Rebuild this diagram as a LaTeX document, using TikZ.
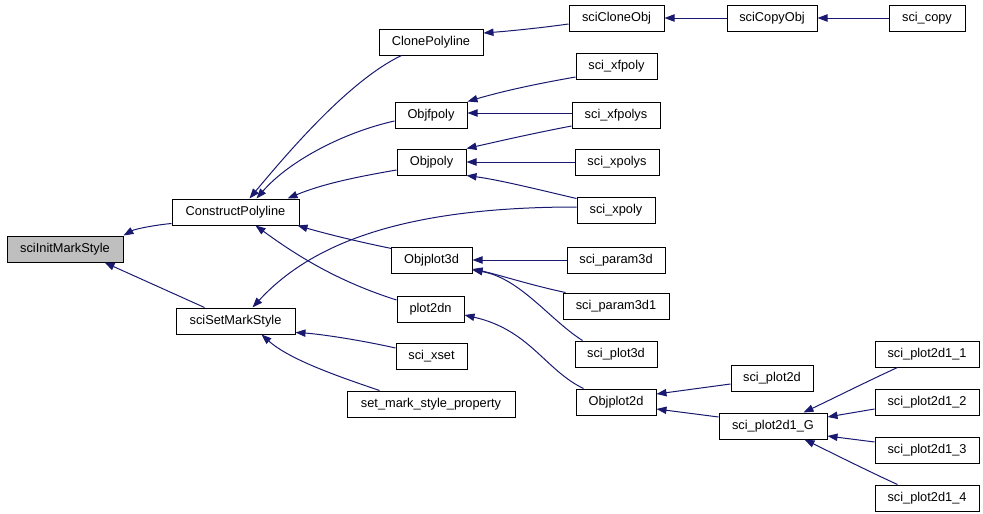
\documentclass[tikz,border=0pt]{standalone}
\usepackage{fontspec}
\setmainfont{Liberation Sans}
\usetikzlibrary{arrows.meta,calc}
\definecolor{edgeblue}{HTML}{191970}
\definecolor{hilite}{HTML}{BFBFBF}
\tikzset{
  box/.style={draw=black, line width=0.75pt, fill=white, inner sep=0pt, minimum height=19.5pt, font=\fontsize{9.6}{11}\selectfont},
  edge/.style={draw=edgeblue, line width=0.75pt, -{Triangle[length=7.5pt,width=5.5pt]}, color=edgeblue}
}
\begin{document}
\begin{tikzpicture}[x=0.75pt,y=-0.75pt]
\useasboundingbox (0,0) rectangle (983,514);
% nodes
\node[box, fill=hilite, minimum width=87pt] (init) at (65,249) {sciInitMarkStyle};
\node[box, minimum width=95.25pt] (CP) at (235.5,212) {ConstructPolyline};
\node[box, minimum width=89.25pt] (SSM) at (235.5,321) {sciSetMarkStyle};
\node[box, minimum width=78pt] (CloneP) at (431,42) {ClonePolyline};
\node[box, minimum width=54pt] (Objfpoly) at (431,115) {Objfpoly};
\node[box, minimum width=51.75pt] (Objpoly) at (431.5,162) {Objpoly};
\node[box, minimum width=60.75pt] (Objplot3d) at (431.5,260) {Objplot3d};
\node[box, minimum width=50.25pt] (plot2dn) at (430.5,309) {plot2dn};
\node[box, minimum width=53.25pt] (xset) at (431.5,356) {sci\_xset};
\node[box, minimum width=126pt] (smsp) at (431,404) {set\_mark\_style\_property};
\node[box, minimum width=71.25pt] (CloneObj) at (616.5,18) {sciCloneObj};
\node[box, minimum width=67.5pt] (CopyObj) at (772,18) {sciCopyObj};
\node[box, minimum width=57pt] (copy) at (927,18) {sci\_copy};
\node[box, minimum width=60.75pt] (xfpoly) at (616.5,66) {sci\_xfpoly};
\node[box, minimum width=66pt] (xfpolys) at (616,115) {sci\_xfpolys};
\node[box, minimum width=63pt] (xpolys) at (617,162) {sci\_xpolys};
\node[box, minimum width=58.5pt] (xpoly) at (616,210) {sci\_xpoly};
\node[box, minimum width=73.5pt] (param3d) at (616,260) {sci\_param3d};
\node[box, minimum width=79.5pt] (param3di) at (616,306) {sci\_param3d1};
\node[box, minimum width=61.5pt] (plot3d) at (616,354) {sci\_plot3d};
\node[box, minimum width=60pt] (Objplot2d) at (616,402) {Objplot2d};
\node[box, minimum width=61.5pt] (plot2d) at (772,378) {sci\_plot2d};
\node[box, minimum width=81pt] (G) at (773,426) {sci\_plot2d1\_G};
\node[box, minimum width=78pt] (s1) at (927,354) {sci\_plot2d1\_1};
\node[box, minimum width=78pt] (s2) at (927,402) {sci\_plot2d1\_2};
\node[box, minimum width=78pt] (s3) at (927,450) {sci\_plot2d1\_3};
\node[box, minimum width=78pt] (s4) at (927,498) {sci\_plot2d1\_4};
% edges
\draw[edge] ($(CP.south west)+(0,-2)$) .. controls (155,225) and (135,229) .. (init.north east);
\draw[edge] ($(SSM.north west)+(29,0)$) -- ($(init.south west)+(98,0)$);
\draw[edge] ($(CloneP.south west)+(23,0)$) .. controls (350,80) and (290,150) .. ($(CP.north west)+(78,0)$);
\draw[edge] ($(Objfpoly.west)+(0,6)$) .. controls (345,132) and (290,160) .. ($(CP.north west)+(85,0)$);
\draw[edge] ($(Objpoly.west)+(0,8)$) .. controls (350,178) and (320,185) .. ($(CP.north east)+(-12,0)$);
\draw[edge] ($(Objplot3d.north west)+(1,2)$) .. controls (350,240) and (320,232) .. ($(CP.south east)+(-2,0)$);
\draw[edge] ($(plot2dn.west)+(0,-9)$) .. controls (340,282) and (300,258) .. ($(CP.south west)+(84,0)$);
\draw[edge] ($(xpoly.west)+(0,-3)$) .. controls (400,207) and (310,245) .. ($(SSM.north west)+(77,0)$);
\draw[edge] ($(xset.west)+(0,-8)$) .. controls (360,340) and (320,334) .. ($(SSM.south east)+(0,-2)$);
\draw[edge] ($(smsp.north west)+(33,0)$) .. controls (340,377) and (290,360) .. ($(SSM.south west)+(86,0)$);
\draw[edge] ($(CloneObj.west)+(0,6)$) .. controls (540,28) and (510,31) .. ($(CloneP.east)+(0,-9)$);
\draw[edge] (CopyObj.west) -- (CloneObj.east);
\draw[edge] (copy.west) -- (CopyObj.east);
\draw[edge] ($(xfpoly.west)+(0,11)$) .. controls (530,85) and (500,92) .. (Objfpoly.north east);
\draw[edge] ($(xfpolys.west)+(0,-2)$) -- ($(Objfpoly.east)+(0,-2)$);
\draw[edge] ($(xfpolys.west)+(0,11)$) .. controls (530,134) and (500,141) .. (Objpoly.north east);
\draw[edge] (xpolys.west) -- (Objpoly.east);
\draw[edge] ($(xpoly.north west)+(0,2)$) .. controls (540,190) and (500,180) .. (Objpoly.south east);
\draw[edge] (param3d.west) -- (Objplot3d.east);
\draw[edge] ($(param3di.north west)+(3,0)$) .. controls (530,285) and (500,275) .. ($(Objplot3d.east)+(0,9)$);
\draw[edge] ($(plot3d.north west)+(8,0)$) .. controls (550,320) and (520,278) .. ($(Objplot3d.east)+(0,10)$);
\draw[edge] ($(Objplot2d.north west)+(8,0)$) .. controls (545,370) and (530,330) .. ($(plot2dn.east)+(0,6)$);
\draw[edge] ($(plot2d.west)+(0,6)$) -- ($(Objplot2d.east)+(0,-8)$);
\draw[edge] ($(G.west)+(0,-9)$) -- ($(Objplot2d.east)+(0,7)$);
\draw[edge] ($(s1.south west)+(23,0)$) .. controls (870,380) and (830,400) .. ($(G.north west)+(85,0)$);
\draw[edge] ($(s2.west)+(0,7)$) -- ($(G.east)+(0,-9)$);
\draw[edge] ($(s3.west)+(0,-8)$) -- ($(G.east)+(0,10)$);
\draw[edge] ($(s4.north west)+(23,0)$) .. controls (870,472) and (830,452) .. ($(G.south west)+(86,0)$);
\end{tikzpicture}
\end{document}
